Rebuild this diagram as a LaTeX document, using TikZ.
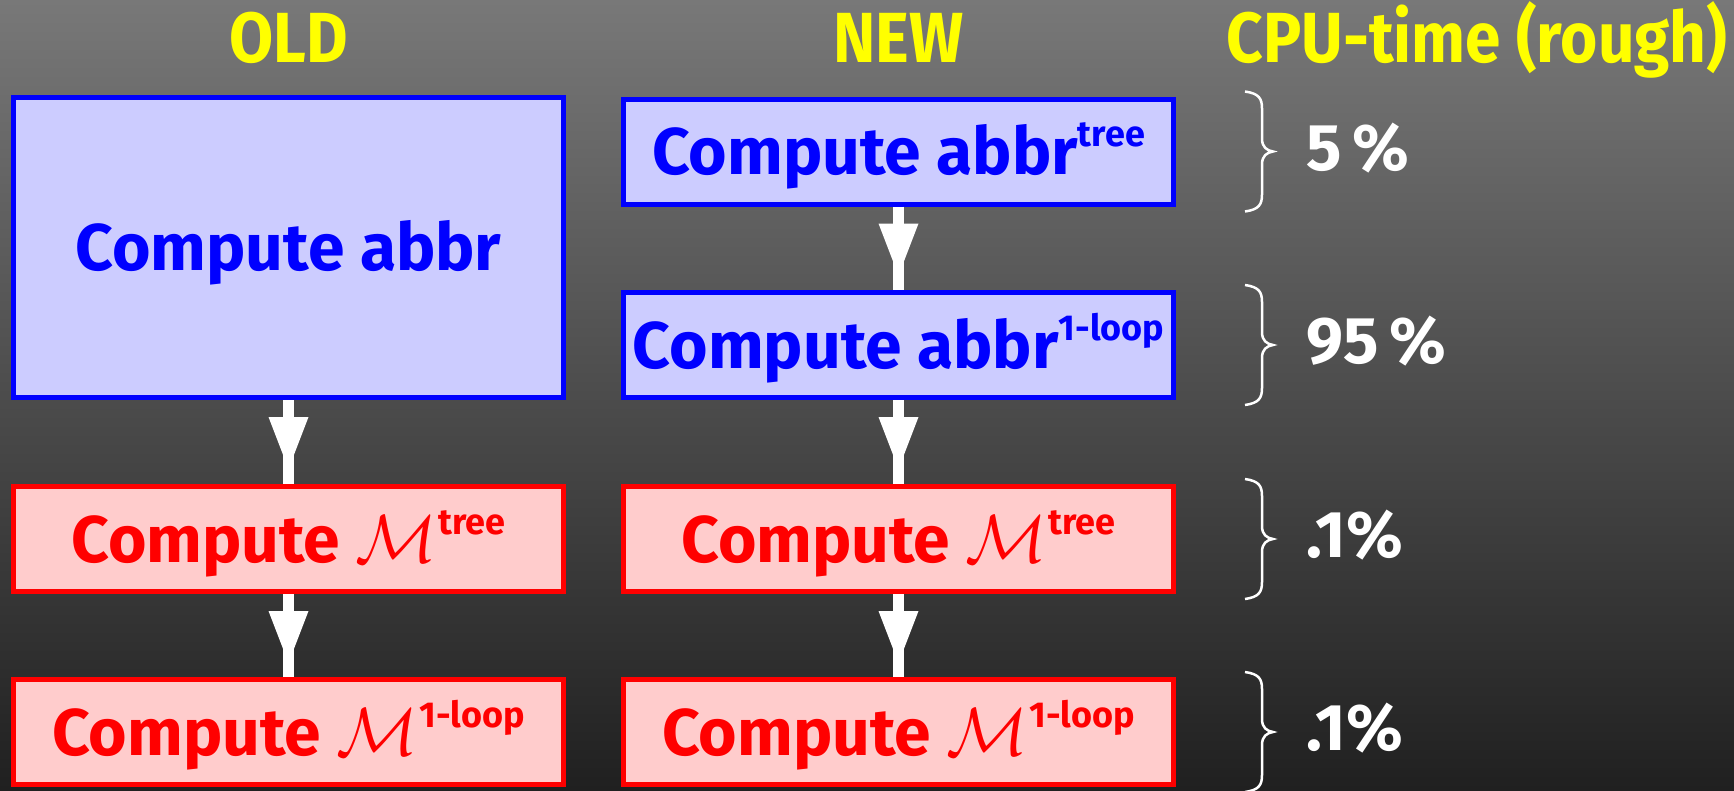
\documentclass[tikz,border=0pt]{standalone}
\usepackage{fontspec}
\setmainfont{Fira Sans}
\usepackage{graphicx}
\usetikzlibrary{decorations.markings}

\definecolor{bgtop}{RGB}{120,120,120}
\definecolor{bgbot}{RGB}{32,32,32}
\definecolor{abbrline}{RGB}{0,0,255}
\definecolor{abbrfill}{RGB}{204,204,255}
\definecolor{ampline}{RGB}{255,0,0}
\definecolor{ampfill}{RGB}{255,204,204}
\definecolor{hdyellow}{RGB}{255,255,0}

% fonts for box labels, column heads and the raised index
\newcommand\boxfont{\fontsize{66pt}{70pt}\selectfont\bfseries}
\newcommand\hdfont{\fontsize{71pt}{75pt}\selectfont\bfseries}
\newcommand\hisup[1]{\smash{\raisebox{28pt}{\fontsize{36pt}{38pt}\selectfont #1}}}
\newcommand\narrow[1]{\scalebox{0.9}[1]{#1}}
% calligraphic amplitude symbol, set at 10pt and scaled up to the label size
\newcommand\amp{\scalebox{6.8}{\fontsize{10pt}{12pt}\selectfont$\mathcal{M}$}\kern1pt}

\tikzset{
  box/.style={draw, line width=5pt, minimum width=550pt, minimum height=105pt,
    inner sep=0pt, text height=46pt, text depth=0pt, font=\boxfont},
  abbrbox/.style={box, draw=abbrline, fill=abbrfill, text=abbrline},
  ampbox/.style={box, draw=ampline, fill=ampfill, text=ampline},
  colhead/.style={text=hdyellow, font=\hdfont, anchor=base, inner sep=0pt},
  share/.style={text=white, font=\boxfont, anchor=base west, inner sep=0pt},
  flow/.style={draw=white, line width=11pt, postaction={decorate},
    decoration={markings, mark=at position 17pt with
      {\fill[white] (0pt,20pt) -- (52pt,0pt) -- (0pt,-20pt) -- cycle;}}},
  bracepath/.style={draw=white, line width=2.5pt},
  cpubrace/.pic={
    \draw[bracepath] (-17pt,60pt) .. controls (-3pt,58pt) and (0pt,53pt) .. (0pt,43pt)
      -- (0pt,13pt) .. controls (0pt,4pt) and (5pt,1pt) .. (11pt,0pt)
      .. controls (5pt,-1pt) and (0pt,-4pt) .. (0pt,-13pt)
      -- (0pt,-43pt) .. controls (0pt,-53pt) and (-3pt,-58pt) .. (-17pt,-60pt);
  }
}

\begin{document}
\begin{tikzpicture}[x=1pt,y=1pt]
  \useasboundingbox (0,0) rectangle (1734,-790);
  \shade[top color=bgtop, bottom color=bgbot] (0,0) rectangle (1734,-790);

  % column heads
  \node[colhead] (hold) at (288.5,-62) {\narrow{OLD}};
  \node[colhead] (hnew) at (898.5,-62) {\narrow{NEW}};
  \node[colhead] (hcpu) at (1477,-62) {\narrow{CPU-time (rough)}};

  % old chain
  \node[abbrbox, minimum height=300pt] (oabbr) at (288.5,-247.5) {Compute abbr};
  \node[ampbox] (otree) at (288.5,-539) {Compute \amp\hisup{tree}};
  \node[ampbox] (oloop) at (288.5,-732) {Compute \amp\hisup{1-loop}};

  % new chain
  \node[abbrbox] (natree) at (898.5,-151.5) {Compute abbr\hisup{tree}};
  \node[abbrbox] (naloop) at (898.5,-345) {Compute abbr\hisup{1-loop}};
  \node[ampbox] (ntree) at (898.5,-539) {Compute \amp\hisup{tree}};
  \node[ampbox] (nloop) at (898.5,-732) {Compute \amp\hisup{1-loop}};

  % flow arrows
  \draw[flow] (oabbr.south) -- (otree.north);
  \draw[flow] (otree.south) -- (oloop.north);
  \draw[flow] (natree.south) -- (naloop.north);
  \draw[flow] (naloop.south) -- (ntree.north);
  \draw[flow] (ntree.south) -- (nloop.north);

  % CPU-time shares
  \pic at (1262,-151.5) {cpubrace};
  \pic at (1262,-345) {cpubrace};
  \pic at (1262,-539) {cpubrace};
  \pic at (1262,-732) {cpubrace};
  \node[share] (s1) at (1306,-170) {5\,\%};
  \node[share] (s2) at (1306,-363.5) {95\,\%};
  \node[share] (s3) at (1306,-557.5) {.1\%};
  \node[share] (s4) at (1306,-750.5) {.1\%};
\end{tikzpicture}
\end{document}
